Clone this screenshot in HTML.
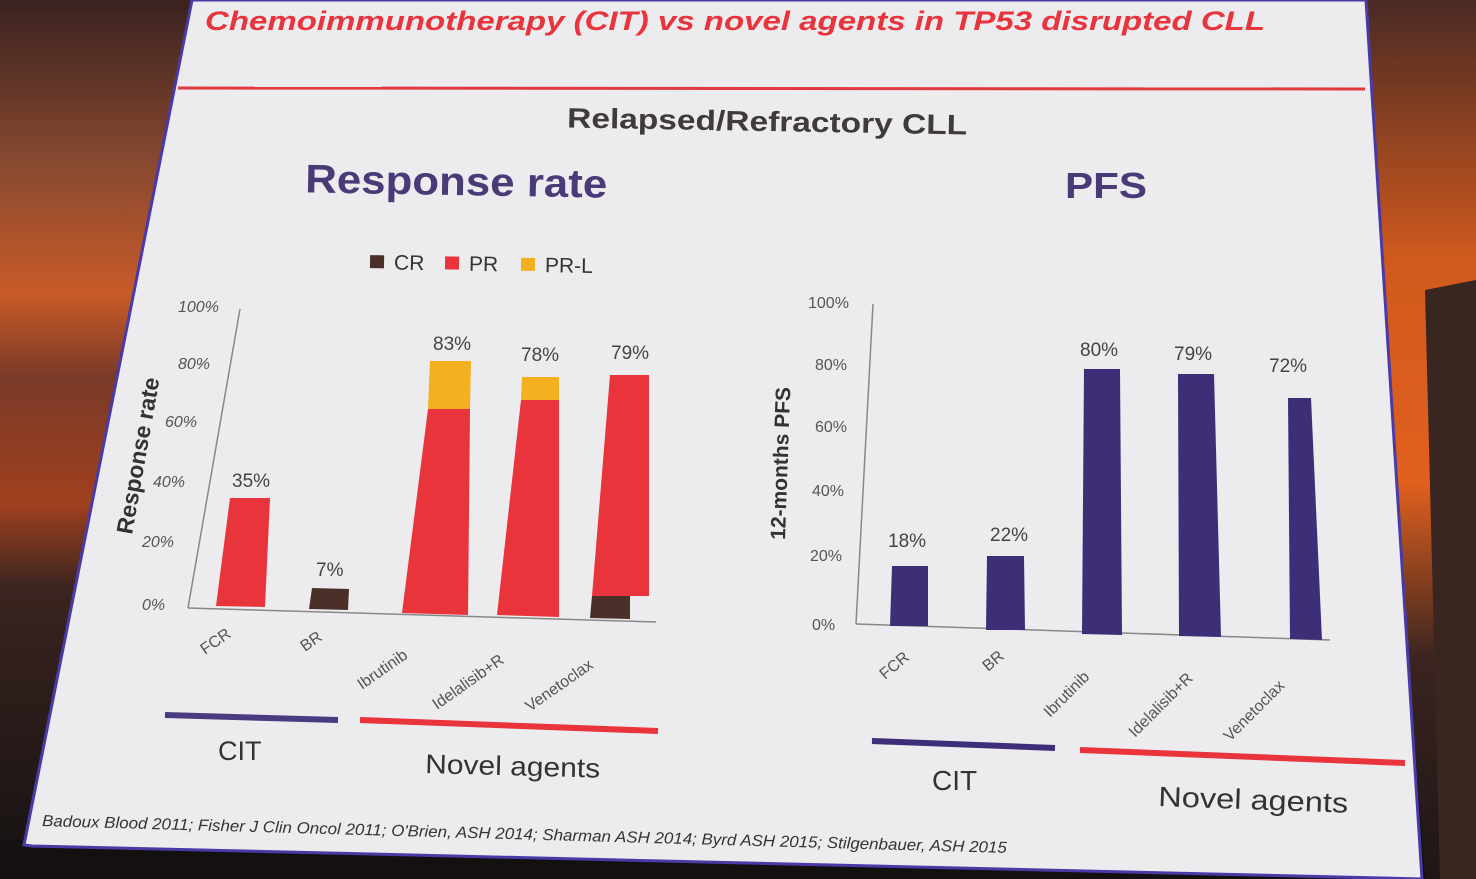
<!DOCTYPE html>
<html><head><meta charset="utf-8"><style>
html,body{margin:0;padding:0;background:#111;}
svg{display:block}
text{font-family:"Liberation Sans",sans-serif}
</style></head><body>
<svg width="1476" height="879" viewBox="0 0 1476 879" xmlns="http://www.w3.org/2000/svg">
<defs>
<linearGradient id="bgL" x1="0" y1="0" x2="0" y2="1">
<stop offset="0" stop-color="#3a2220"/><stop offset="0.2" stop-color="#8a4a30"/>
<stop offset="0.35" stop-color="#c85a28"/><stop offset="0.45" stop-color="#7a3a28"/>
<stop offset="0.6" stop-color="#a0401e"/><stop offset="0.7" stop-color="#3a2420"/>
<stop offset="1" stop-color="#1a1414"/></linearGradient>
<linearGradient id="bgR" x1="0" y1="0" x2="0" y2="1">
<stop offset="0" stop-color="#4a2a24"/><stop offset="0.3" stop-color="#d25a1e"/>
<stop offset="0.55" stop-color="#e0601e"/><stop offset="0.75" stop-color="#3a2420"/>
<stop offset="1" stop-color="#1e1616"/></linearGradient>
</defs>
<rect width="1476" height="879" fill="#141010"/>
<polygon points="0,0 200,0 30,840 0,840" fill="url(#bgL)"/>
<polygon points="1360,0 1476,0 1476,879 1425,879" fill="url(#bgR)"/>
<polygon points="1425,290 1476,280 1476,879 1440,879" fill="#3a2620"/>
<polygon points="192,0 1366,0 1422,879 32,846 24,845" fill="#ecebee" stroke="#4a3aa8" stroke-width="3"/>
<text x="205" y="30" font-size="27" font-weight="bold" font-style="italic" fill="#e8343c" textLength="1060" lengthAdjust="spacingAndGlyphs">Chemoimmunotherapy (CIT) vs novel agents in TP53 disrupted CLL</text>
<line x1="178" y1="88" x2="1365" y2="89" stroke="#e03a40" stroke-width="3"/>
<text x="567" y="131" font-size="28" font-weight="bold" fill="#403a3a" textLength="400" lengthAdjust="spacingAndGlyphs" transform="rotate(1 767 131)">Relapsed/Refractory CLL</text>
<text x="305" y="195" font-size="40" font-weight="bold" fill="#4a3a78" textLength="302" lengthAdjust="spacingAndGlyphs" transform="rotate(1 456 195)">Response rate</text>
<text x="1065" y="198" font-size="36" font-weight="bold" fill="#4a3a78" textLength="82" lengthAdjust="spacingAndGlyphs">PFS</text>
<g transform="rotate(1 480 265)">
<rect x="370" y="257" width="14" height="13" fill="#4a3028"/><text x="394" y="271" font-size="21" fill="#333">CR</text>
<rect x="445" y="257" width="14" height="13" fill="#e8343a"/><text x="469" y="271" font-size="21" fill="#333">PR</text>
<rect x="521" y="257" width="14" height="13" fill="#f5b020"/><text x="545" y="271" font-size="21" fill="#333">PR-L</text>
</g>
<g fill="#555" font-size="16" font-style="italic">
<text x="178" y="312">100%</text><text x="178" y="369">80%</text><text x="165" y="427">60%</text>
<text x="153" y="487">40%</text><text x="142" y="547">20%</text><text x="142" y="610">0%</text>
</g>
<line x1="240" y1="309" x2="188" y2="608" stroke="#888" stroke-width="1.5"/>
<line x1="188" y1="608" x2="656" y2="622" stroke="#888" stroke-width="1.5"/>
<text transform="translate(132,535) rotate(-80)" font-size="23" font-weight="bold" fill="#333">Response rate</text>
<polygon points="230,498 270,498 265,607 216,606" fill="#e8343a"/>
<polygon points="312,588 349,589 348,610 309,609" fill="#4a3028"/>
<polygon points="430,361 471,361 470,409 428,409" fill="#f5b020"/>
<polygon points="428,409 470,409 468,615 402,613" fill="#e8343a"/>
<polygon points="522,377 559,377 559,400 521,400" fill="#f5b020"/>
<polygon points="521,400 559,400 559,617 497,615" fill="#e8343a"/>
<polygon points="610,375 649,375 649,596 592,596" fill="#e8343a"/>
<polygon points="592,596 630,596 630,619 590,618" fill="#4a3028"/>
<g font-size="19" fill="#444">
<text x="232" y="487">35%</text><text x="316" y="576">7%</text><text x="433" y="350">83%</text>
<text x="521" y="361">78%</text><text x="611" y="359">79%</text>
</g>
<g font-size="16" fill="#555">
<text transform="translate(205,655) rotate(-35)">FCR</text>
<text transform="translate(305,652) rotate(-35)">BR</text>
<text transform="translate(362,690) rotate(-35)">Ibrutinib</text>
<text transform="translate(437,710) rotate(-35)">Idelalisib+R</text>
<text transform="translate(530,712) rotate(-35)">Venetoclax</text>
</g>
<line x1="165" y1="715" x2="338" y2="720" stroke="#4a3a80" stroke-width="6"/>
<line x1="360" y1="720" x2="658" y2="731" stroke="#e8343a" stroke-width="6"/>
<text x="218" y="760" font-size="27" fill="#333">CIT</text>
<text x="425" y="773" font-size="27" fill="#333" textLength="175" lengthAdjust="spacingAndGlyphs" transform="rotate(1.5 425 773)">Novel agents</text>
<g fill="#555" font-size="16">
<text x="808" y="308">100%</text><text x="815" y="370">80%</text><text x="815" y="432">60%</text>
<text x="812" y="496">40%</text><text x="810" y="561">20%</text><text x="812" y="630">0%</text>
</g>
<line x1="873" y1="304" x2="856" y2="624" stroke="#888" stroke-width="1.5"/>
<line x1="856" y1="624" x2="1330" y2="640" stroke="#888" stroke-width="1.5"/>
<text transform="translate(785,540) rotate(-88)" font-size="21" font-weight="bold" fill="#333">12-months PFS</text>
<g fill="#3e2e78">
<polygon points="892,566 928,566 928,626 890,626"/>
<polygon points="987,556 1024,556 1025,630 986,630"/>
<polygon points="1084,369 1120,369 1122,635 1082,634"/>
<polygon points="1178,374 1214,374 1221,637 1179,636"/>
<polygon points="1288,398 1311,398 1322,640 1290,639"/>
</g>
<g font-size="19" fill="#444">
<text x="888" y="547">18%</text><text x="990" y="541">22%</text><text x="1080" y="356">80%</text>
<text x="1174" y="360">79%</text><text x="1269" y="372">72%</text>
</g>
<g font-size="16" fill="#555">
<text transform="translate(885,680) rotate(-40)">FCR</text>
<text transform="translate(988,672) rotate(-40)">BR</text>
<text transform="translate(1050,718) rotate(-45)">Ibrutinib</text>
<text transform="translate(1135,738) rotate(-45)">Idelalisib+R</text>
<text transform="translate(1230,742) rotate(-45)">Venetoclax</text>
</g>
<line x1="872" y1="741" x2="1055" y2="748" stroke="#3e2e78" stroke-width="6"/>
<line x1="1080" y1="750" x2="1405" y2="763" stroke="#e8343a" stroke-width="6"/>
<text x="932" y="790" font-size="28" fill="#333">CIT</text>
<text x="1158" y="806" font-size="28" fill="#333" textLength="190" lengthAdjust="spacingAndGlyphs" transform="rotate(2 1158 806)">Novel agents</text>
<text x="42" y="826" font-size="16" fill="#333" font-style="italic" textLength="965" lengthAdjust="spacingAndGlyphs" transform="rotate(1.6 42 826)">Badoux Blood 2011; Fisher J Clin Oncol  2011; O'Brien, ASH 2014; Sharman ASH 2014; Byrd ASH 2015; Stilgenbauer, ASH 2015</text>
</svg>
</body></html>
